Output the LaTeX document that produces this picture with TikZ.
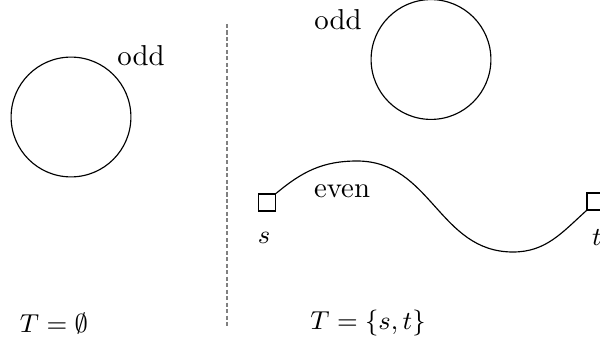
\documentclass[tikz,border=0pt]{standalone}
\begin{document}
\begin{tikzpicture}[x=0.3472pt,y=-0.3472pt,
  terminal/.style={draw,rectangle,minimum size=5.9pt,inner sep=0pt,line width=0.4pt},
  ring/.style={draw,circle,minimum size=41.6pt,inner sep=0pt,line width=0.4pt},
  lbl/.style={inner sep=0pt,font=\normalsize},
  mlbl/.style={inner sep=0pt,font=\small},
  divider/.style={gray,line width=0.4pt,dash pattern=on 1.4pt off 0.85pt}]
\useasboundingbox (0,0) rectangle (600,356);
% left panel
\node[ring] (c1) at (71,117) {};
\node[lbl] (odd1) at (141,56) {odd};
\node[mlbl] (T1) at (54,323) {$T=\emptyset$};
% divider
\coordinate (dtop) at (227,24);
\coordinate (dbot) at (227,328);
\draw[divider] (dtop) -- (dbot);
% right panel
\node[ring] (c2) at (431,59.5) {};
\node[lbl] (odd2) at (338,20) {odd};
\node[terminal] (s) at (267,202.5) {};
\node[terminal] (t) at (595.5,201.5) {};
\node[mlbl] (sl) at (264,238) {$s$};
\node[mlbl] (tl) at (597,238) {$t$};
\node[lbl] (even) at (342,191) {even};
\coordinate (peak) at (357,161);
\coordinate (trough) at (513,252);
\draw[line width=0.4pt] (s.north east) to[out=40,in=180] (peak)
  to[out=0,in=180,looseness=1.05] (trough) to[out=0,in=222] (t.south west);
\node[mlbl] (T2) at (368,323) {$T=\{s,t\}$};
\end{tikzpicture}
\end{document}
